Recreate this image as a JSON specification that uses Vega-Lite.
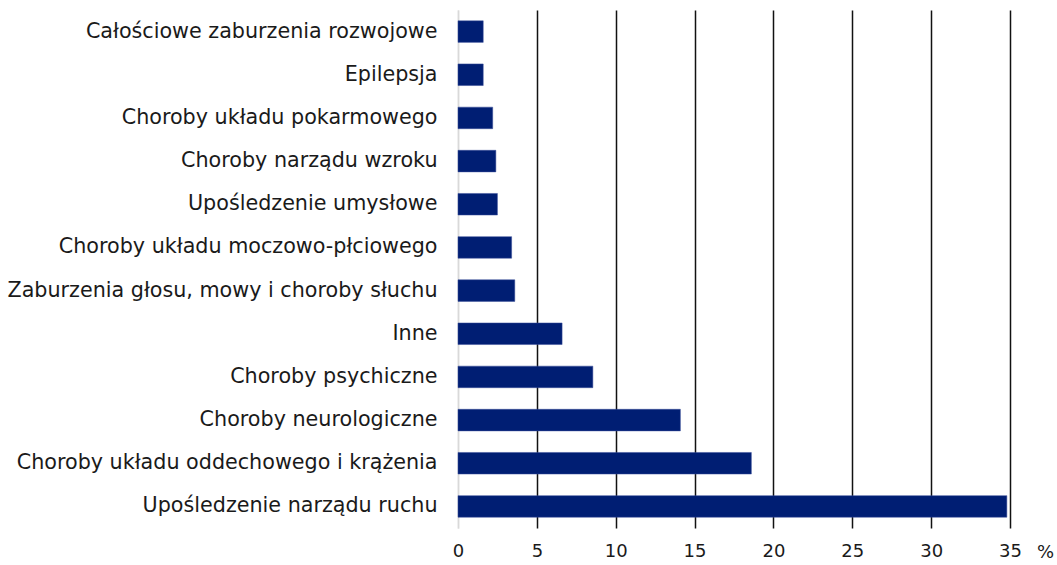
{
  "$schema": "https://vega.github.io/schema/vega-lite/v6.json",
  "autosize": "none",
  "padding": {"left": 458, "top": 10, "right": 47, "bottom": 37},
  "width": 552,
  "height": 518,
  "background": "white",
  "data": {
    "values": [
      {"kategoria": "Całościowe zaburzenia rozwojowe", "procent": 1.6},
      {"kategoria": "Epilepsja", "procent": 1.6},
      {"kategoria": "Choroby układu pokarmowego", "procent": 2.2},
      {"kategoria": "Choroby narządu wzroku", "procent": 2.4},
      {"kategoria": "Upośledzenie umysłowe", "procent": 2.5},
      {"kategoria": "Choroby układu moczowo-płciowego", "procent": 3.4},
      {"kategoria": "Zaburzenia głosu, mowy i choroby słuchu", "procent": 3.6},
      {"kategoria": "Inne", "procent": 6.6},
      {"kategoria": "Choroby psychiczne", "procent": 8.55},
      {"kategoria": "Choroby neurologiczne", "procent": 14.1},
      {"kategoria": "Choroby układu oddechowego i krążenia", "procent": 18.6},
      {"kategoria": "Upośledzenie narządu ruchu", "procent": 34.8}
    ]
  },
  "config": {
    "view": {"stroke": null},
    "font": "DejaVu Sans"
  },
  "mark": {"type": "bar", "color": "#001e73", "stroke": "#3a4f9a", "strokeWidth": 0.5},
  "encoding": {
    "y": {
      "field": "kategoria",
      "type": "nominal",
      "sort": null,
      "scale": {"paddingInner": 0.5, "paddingOuter": 0.25},
      "axis": {
        "title": null,
        "ticks": false,
        "domain": true,
        "domainColor": "#d9d9d9",
        "domainWidth": 1.5,
        "labelFont": "DejaVu Sans",
        "labelFontSize": 20.7,
        "labelColor": "#1a1a1a",
        "labelPadding": 21,
        "labelLimit": 500
      }
    },
    "x": {
      "field": "procent",
      "type": "quantitative",
      "scale": {"domain": [0, 35], "nice": false},
      "axis": {
        "values": [0, 5, 10, 15, 20, 25, 30, 35],
        "grid": true,
        "gridColor": {"condition": {"test": "datum.value === 0", "value": "#d9d9d9"}, "value": "#111111"},
        "gridWidth": 1.5,
        "domain": false,
        "ticks": false,
        "labelFlush": false,
        "labelFont": "DejaVu Sans",
        "labelFontSize": 18,
        "labelColor": "#1a1a1a",
        "labelPadding": 14,
        "title": "%",
        "titleFont": "DejaVu Sans",
        "titleFontSize": 18,
        "titleFontWeight": "normal",
        "titleColor": "#1a1a1a",
        "titleX": 587,
        "titleY": 24,
        "titleAlign": "center",
        "titleBaseline": "middle",
        "titleAngle": 0
      }
    }
  }
}
